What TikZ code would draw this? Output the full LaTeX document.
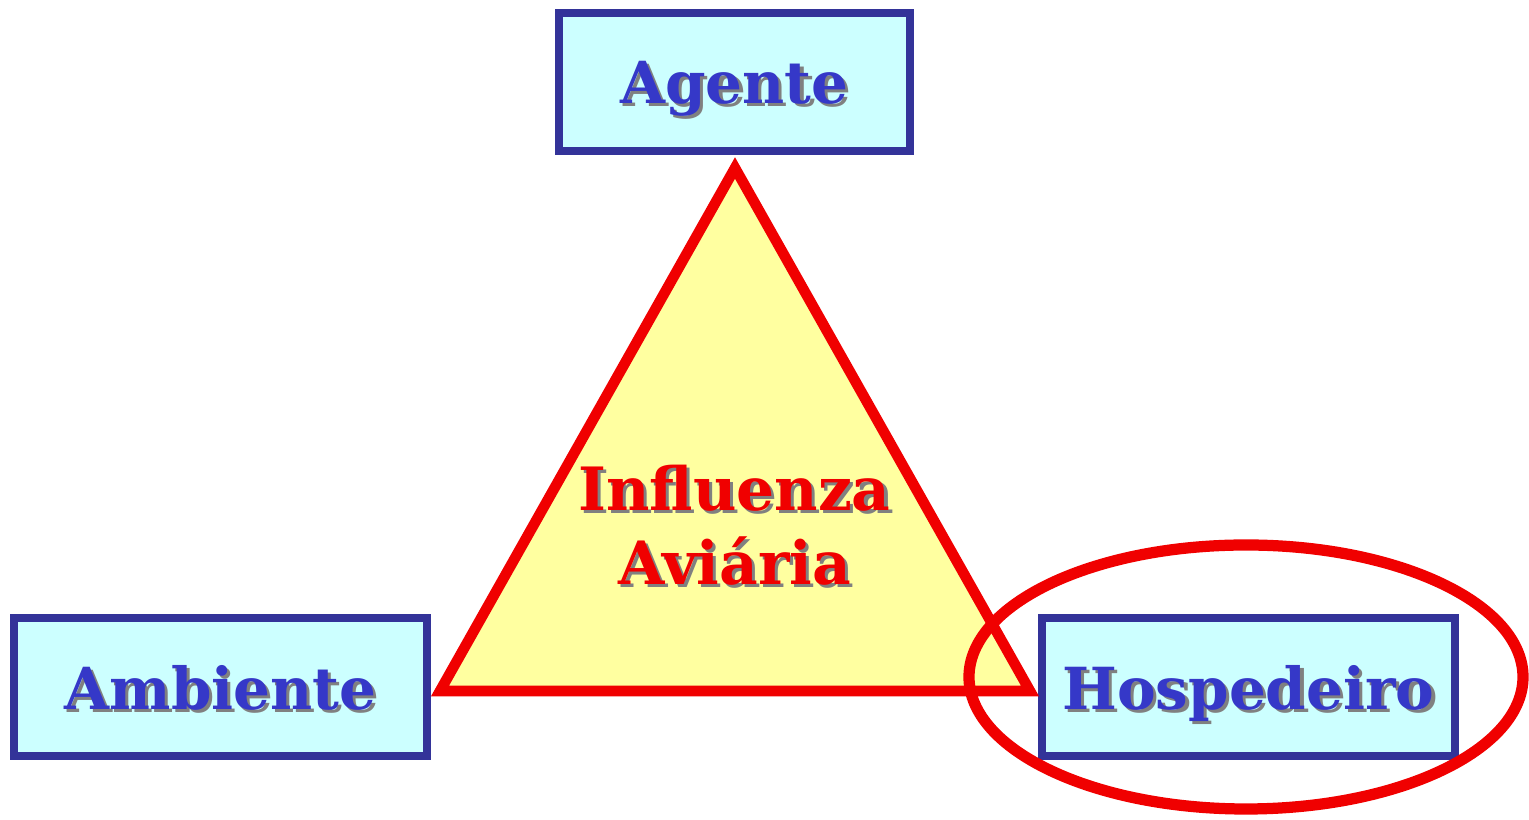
\documentclass[tikz,border=0pt]{standalone}
\usepackage{fontspec}
\setmainfont{DejaVu Serif}
\usetikzlibrary{positioning}

\definecolor{boxblue}{HTML}{333399}
\definecolor{textblue}{HTML}{3538C8}
\definecolor{boxfill}{HTML}{CCFFFF}
\definecolor{trifill}{HTML}{FFFFA0}
\definecolor{redline}{HTML}{F00000}

% text with a soft drop shadow
\newcommand\shadowtext[1]{\makebox[0pt][l]{\hspace{0.9pt}\raisebox{-0.9pt}{\color{black!50}#1}}#1}

\tikzset{
  factor/.style={draw=boxblue, line width=2pt, fill=boxfill,
    minimum height=1.38cm, inner sep=0pt, text depth=0pt,
    font=\fontsize{16.5}{20}\selectfont\bfseries, text=textblue},
  tri/.style={draw=redline, line width=3pt, fill=trifill, line join=miter},
  ring/.style={draw=redline, line width=3.2pt}
}

\begin{document}
\begin{tikzpicture}
  \useasboundingbox (0,0) rectangle (15.29,8.2);

  % the three factors
  \node[factor, minimum width=3.51cm] (agente) at (7.345,7.38) {\shadowtext{Agente}};
  \node[factor, minimum width=4.13cm] (ambiente) at (2.205,1.33) {\shadowtext{Ambiente}};
  \node[factor, minimum width=4.13cm] (hosp) at (12.485,1.33) {\shadowtext{Hospedeiro}};

  % triangle
  \coordinate (apex) at (7.35,6.52);
  \coordinate (left) at (4.40,1.29);
  \coordinate (right) at (10.30,1.29);
  \draw[tri] (apex) -- (left) -- (right) -- cycle;

  \node[font=\fontsize{17}{21}\selectfont\bfseries, text=redline, align=center]
    (disease) at (7.345,2.93) {\shadowtext{Influenza}\\\shadowtext{Aviária}};

  % highlight on the host
  \draw[ring] (12.46,1.43) ellipse [x radius=2.77cm, y radius=1.32cm];
\end{tikzpicture}
\end{document}
